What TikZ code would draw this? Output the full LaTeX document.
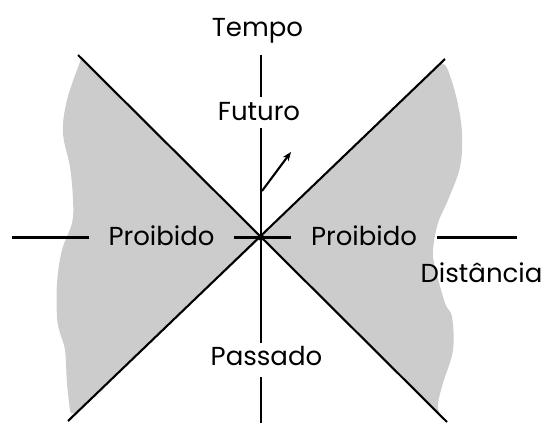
\documentclass[tikz,border=0pt]{standalone}
\usepackage{fontspec}
\setmainfont{Poppins}
\usetikzlibrary{arrows.meta}
\definecolor{forbid}{RGB}{204,204,204}
\tikzset{
  axis/.style={line width=2.1pt, black},
  cone/.style={line width=2.1pt, black},
  lbl/.style={font=\fontsize{26}{30}\selectfont, inner sep=0pt, anchor=base},
}
\begin{document}
\begin{tikzpicture}[x=1pt,y=-1pt]
\useasboundingbox (0,0) rectangle (547,423);
\coordinate (O) at (261,237.5);
\coordinate (ul) at (78,55);
\coordinate (ur) at (445,59);
\coordinate (ll) at (68,421);
\coordinate (lr) at (447,422);
% forbidden regions
\fill[forbid] (81,58) -- (O) -- (75,414) -- plot[smooth, tension=0.6] coordinates
  {(72,413) (70,410) (67,383) (65,350) (60,333) (57,317) (57,283) (62,250) (72,223) (73,200) (70,167) (63,133) (67,100) (80,62)} -- cycle;
\fill[forbid] (441,63) -- (O) -- (438,413) -- plot[smooth, tension=0.6] coordinates
  {(439,412) (438,403) (443,383) (453,350) (452,317) (445,303) (435,267) (433,250) (438,223) (448,200) (460,167) (462,133) (457,100) (448,70) (443,64)} -- cycle;
% labels
\node[lbl] (tempo) at (257.5,36) {Tempo};
\node[lbl, text height=23pt, text depth=8pt] (fut) at (259,120) {Futuro};
\node[lbl, text height=22pt, text depth=12pt] (pas) at (266.5,365) {Passado};
\node[lbl, inner xsep=19pt] (pl) at (161.5,245) {Proibido};
\node[lbl, inner xsep=20pt] (pr) at (364,245) {Proibido};
\node[lbl] (dist) at (481.5,282) {Distância};
% light cone
\draw[cone] (ul) -- (lr);
\draw[cone] (ll) -- (ur);
% axes
\coordinate (vtop) at (261,55);
\coordinate (vbot) at (261,423);
\coordinate (hl) at (12,237.5);
\coordinate (hr) at (517,237.5);
\draw[axis] (vtop) -- (fut.north -| O);
\draw[axis] (fut.south -| O) -- (O);
\draw[axis] (O) -- (pas.north -| O);
\draw[axis] (pas.south -| O) -- (vbot);
\draw[axis] (hl) -- (pl.west |- O);
\draw[axis] (pl.east |- O) -- (O);
\draw[axis] (O) -- (pr.west |- O);
\draw[axis] (pr.east |- O) -- (hr);
% world line arrow
\coordinate (a0) at (262,191);
\coordinate (a1) at (291,152);
\draw[line width=2.1pt, -{Stealth[length=9pt,width=7pt]}] (a0) -- (a1);
\fill (O) circle (3.3pt);
\end{tikzpicture}
\end{document}
